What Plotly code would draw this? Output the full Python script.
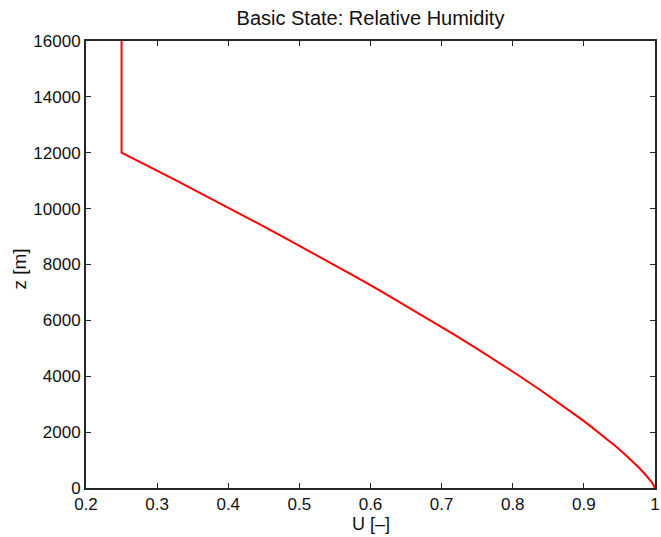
import plotly.graph_objects as go

# Relative humidity profile
z_m = [0, 50, 100, 150, 200, 250, 500, 750, 1000, 1250, 1500, 1750, 2000, 2250,
       2500, 2750, 3000, 3500, 4000, 4500, 5000, 5500, 6000, 6500, 7000, 7500,
       8000, 8500, 9000, 9500, 10000, 10500, 11000, 11500, 12000, 16000]
U = [1.0, 0.9992, 0.9981, 0.9969, 0.9955, 0.9941, 0.9859, 0.9766, 0.9664, 0.9556,
     0.9443, 0.9324, 0.9201, 0.9075, 0.8944, 0.8810, 0.8674, 0.8392, 0.8100, 0.7799,
     0.7490, 0.7172, 0.6847, 0.6515, 0.6176, 0.5832, 0.5482, 0.5126, 0.4765, 0.4399,
     0.4029, 0.3653, 0.3273, 0.2888, 0.25, 0.25]

x_ticks = [0.2, 0.3, 0.4, 0.5, 0.6, 0.7, 0.8, 0.9, 1.0]
x_tick_labels = ["0.2", "0.3", "0.4", "0.5", "0.6", "0.7", "0.8", "0.9", "1"]
y_ticks = [0, 2000, 4000, 6000, 8000, 10000, 12000, 14000, 16000]
y_tick_labels = ["0", "2000", "4000", "6000", "8000", "10000", "12000", "14000", "16000"]

W, H = 661, 537
L, R, T, B = 86, 1, 41, 49

fig = go.Figure()
fig.add_trace(go.Scatter(x=U, y=z_m, mode="lines",
                         line=dict(color="#ff0000", width=2),
                         showlegend=False, hoverinfo="skip"))

font = "Liberation Sans, Arial, Helvetica, sans-serif"
txt = "#111111"
axis_common = dict(showgrid=False, zeroline=False, showline=True,
                   linecolor="#262626", linewidth=2, mirror="allticks",
                   ticks="inside", ticklen=5, tickwidth=1, tickcolor="#262626",
                   ticklabeloverflow="allow",
                   tickfont=dict(family=font, size=17, color=txt))

fig.update_layout(
    width=W, height=H,
    margin=dict(l=L, r=R, t=T, b=B),
    paper_bgcolor="white", plot_bgcolor="white",
    title=dict(text="Basic State: Relative Humidity", x=0.5, xanchor="center",
               xref="paper", y=1 - 18 / H, yanchor="middle",
               font=dict(family=font, size=20, color=txt)),
    xaxis=dict(range=[0.2, 1.0], tickmode="array", tickvals=x_ticks,
               ticktext=x_tick_labels, **axis_common),
    yaxis=dict(range=[0, 16000], tickmode="array", tickvals=y_ticks,
               ticktext=y_tick_labels, **axis_common),
    annotations=[
        dict(text="U [–]", xref="paper", yref="paper", x=0.5,
             y=-(524 - (H - B)) / (H - T - B), xanchor="center", yanchor="middle",
             showarrow=False, font=dict(family=font, size=18, color=txt)),
        dict(text="z [m]", xref="paper", yref="paper",
             x=-(L - 18) / (W - L - R), y=(H - B - 269) / (H - T - B),
             xanchor="center", yanchor="middle", textangle=-90,
             showarrow=False, font=dict(family=font, size=19, color=txt)),
    ],
)

fig.write_html("out.html")
